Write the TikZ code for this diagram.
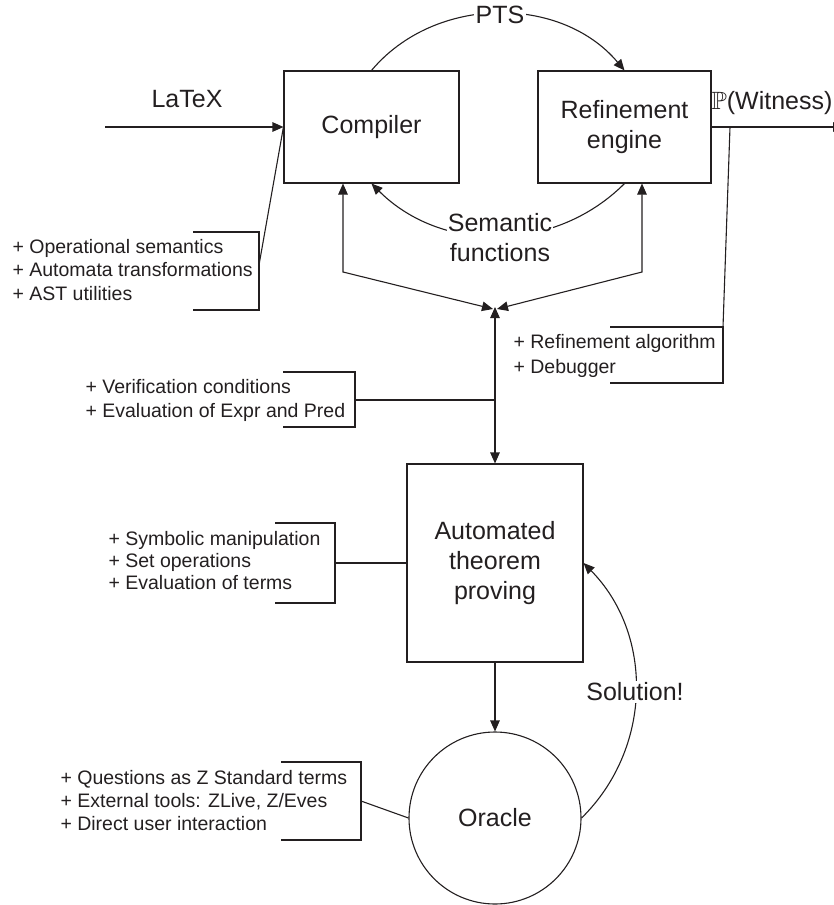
\documentclass[tikz,border=0pt]{standalone}
\usepackage{amssymb}
\usepackage{fontspec}
\setmainfont{Liberation Sans}
\usetikzlibrary{arrows.meta,calc}
\definecolor{ink}{RGB}{35,31,32}
\begin{document}
\begin{tikzpicture}[x=1pt,y=-1pt,line width=1.1pt,color=ink,
  font=\fontsize{25}{30}\selectfont,
  box/.style={draw,align=center,inner sep=0pt},
  note/.style={font=\fontsize{19.5}{23.5}\selectfont,anchor=base west,inner sep=0pt},
  lbl/.style={fill=white,inner sep=2pt,align=center},
  arr/.style={-{Triangle[length=11pt,width=9.5pt]}},
  darr/.style={{Triangle[length=11pt,width=9.5pt]}-{Triangle[length=11pt,width=9.5pt]}}]
\useasboundingbox (0,0) rectangle (834,905);

% main nodes
\node[box,minimum width=175pt,minimum height=112pt] (comp) at (371.5,127) {Compiler};
\node[box,minimum width=173pt,minimum height=112pt] (ref) at (624.5,127) {Refinement\\engine};
\node[box,minimum width=176pt,minimum height=198pt] (atp) at (495,563) {Automated\\theorem\\proving};
\node[draw,circle,minimum size=172pt,inner sep=0pt] (orc) at (495,818) {Oracle};

% PTS arc
\draw[arr] (comp.north) to[bend left=50] (ref.north);
\node[lbl] (pts) at (500,15) {PTS};

% Semantic functions arc
\draw[arr] (ref.south) to[bend left=45] (comp.south);
\node[lbl,inner sep=1pt] (sem) at (500,238) {Semantic\\functions};

% junction arrows
\coordinate (J) at (495,308);
\coordinate (cl) at (343,272);
\coordinate (rl) at (642,272);
\draw[darr] (comp.south -| cl) -- (cl) -- ([xshift=-2pt,yshift=-1pt]J);
\draw[darr] (ref.south -| rl) -- (rl) -- ([xshift=2pt,yshift=-1pt]J);
\draw[darr] (atp.north) -- ([yshift=1pt]J);

% ATP -> Oracle
\draw[arr] (atp.south) -- (orc.north);

% Solution arc
\draw[arr] (orc.east) to[bend right=45] (atp.east);
\node[lbl] (sol) at (635,692) {Solution!};

% LaTeX input
\coordinate (lin) at (105,127);
\draw[arr] (lin) -- (comp.west);
\node (latex) at (187,99) {LaTeX};

% Witness output
\coordinate (wout) at (844,127);
\draw[arr] (ref.east) -- (wout);
\node[anchor=east,inner sep=0pt] (wit) at (833,103) {$\mathbb{P}$(Witness)};

% Compiler annotations
\coordinate (cb) at (259,265);
\draw (comp.west) -- (cb);
\draw (193,232) -- (259,232) -- (259,310) -- (193,310);
\node[note] (op1) at (12,253) {+ Operational semantics};
\node[note] (op2) at (12,276.5) {+ Automata transformations};
\node[note] (op3) at (12,300) {+ AST utilities};

% Refinement annotations
\coordinate (wtop) at (730,127);
\coordinate (wb) at (723,327);
\draw (wtop) -- (wb);
\draw (610,327) -- (wb) -- (723,383) -- (610,383);
\node[note] (rf1) at (513,348) {+ Refinement algorithm};
\node[note] (rf2) at (513,373) {+ Debugger};

% Verification annotations
\coordinate (vj) at (495,400);
\draw (283,372) -- (355,372) -- (355,427) -- (283,427);
\draw (355,400) -- (vj);
\node[note] (vc1) at (85,393) {+ Verification conditions};
\node[note] (vc2) at (85,417) {+ Evaluation of Expr and Pred};

% ATP annotations
\draw (275,523) -- (335,523) -- (335,603) -- (275,603);
\coordinate (sj) at (335,563);
\draw (sj) -- (atp.west);
\node[note] (sy1) at (108,545) {+ Symbolic manipulation};
\node[note] (sy2) at (108,567) {+ Set operations};
\node[note] (sy3) at (108,589) {+ Evaluation of terms};

% Oracle annotations
\draw (281,762) -- (361,762) -- (361,840) -- (281,840);
\coordinate (oj) at (361,801);
\draw (oj) -- (orc.west);
\node[note] (or1) at (60,784) {+ Questions as Z Standard terms};
\node[note] (or2) at (60,807) {+ External tools: ZLive, Z/Eves};
\node[note] (or3) at (60,830) {+ Direct user interaction};
\end{tikzpicture}
\end{document}
